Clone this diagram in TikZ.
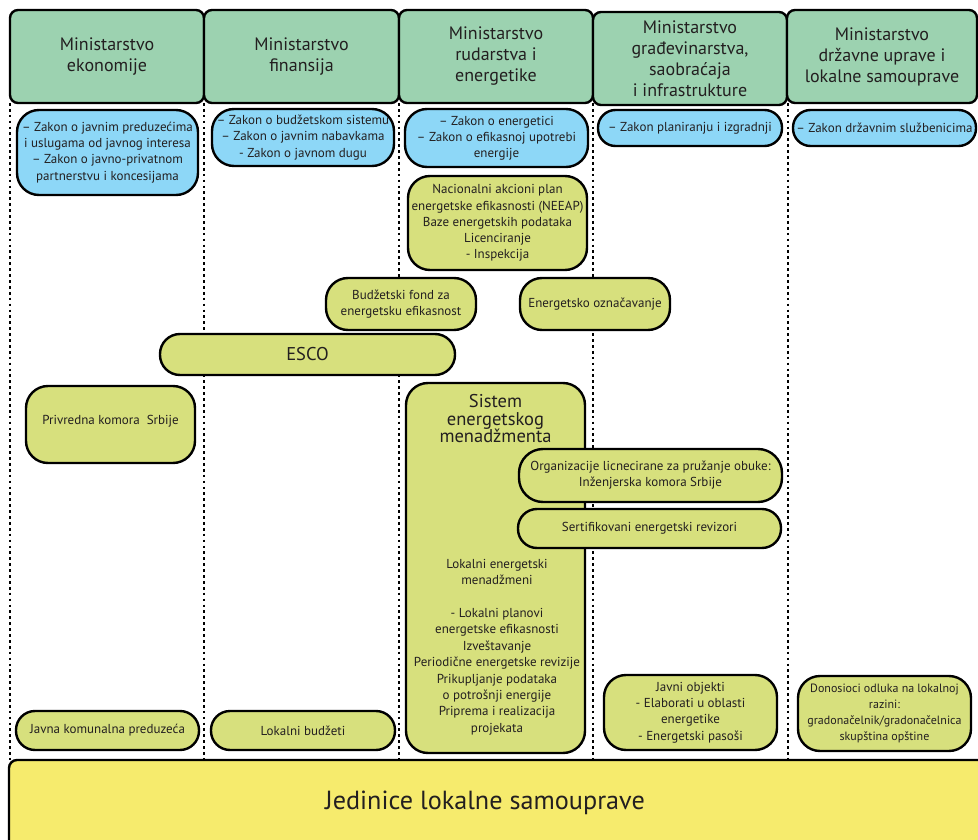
\documentclass[tikz,border=0pt]{standalone}
\usepackage{fontspec}
\setmainfont{PT Sans}
\definecolor{hdr}{RGB}{156,210,176}
\definecolor{law}{RGB}{141,215,247}
\definecolor{lime}{RGB}{215,224,125}
\definecolor{ylw}{RGB}{246,235,109}
\definecolor{txt}{RGB}{35,31,32}
\tikzset{
  base/.style={draw=black, line width=2.4pt, inner sep=0pt, outer sep=0pt, align=center, text=txt},
  hdrbox/.style={base, fill=hdr, rounded corners=8pt, font=\fontsize{18}{21}\selectfont},
  lawbox/.style={base, fill=law, rounded corners=#1, font=\fontsize{13}{16.2}\selectfont},
  limebox/.style={base, fill=lime, rounded corners=#1, font=\fontsize{13}{16.2}\selectfont},
  sep/.style={line width=2.7pt, dash pattern=on 2.7pt off 3.2pt, black},
  plain/.style={inner sep=0pt, align=center, text=txt},
}
\begin{document}
\begin{tikzpicture}[x=1pt,y=-1pt]
\clip (0,0) rectangle (978,840);
\path[use as bounding box] (0,0) rectangle (978,840);
\fill[white] (0,0) rectangle (978,840);

% column separators
\foreach \i/\x in {0/10,1/204,2/399,3/593,4/788}{
  \coordinate (t\i) at (\x,103);
  \coordinate (b\i) at (\x,760);
  \draw[sep] (t\i) -- (b\i);
}

% headers
\node[hdrbox, minimum width=194pt, minimum height=93pt] (h1) at (107,56.5) {Ministarstvo\\ekonomije};
\node[hdrbox, minimum width=195pt, minimum height=93pt] (h2) at (301.5,56.5) {Ministarstvo\\finansija};
\node[hdrbox, minimum width=194pt, minimum height=93pt] (h3) at (496,56.5) {Ministarstvo\\rudarstva i\\energetike};
\node[hdrbox, minimum width=194pt, minimum height=93pt] (h4) at (690,58.5) {Ministarstvo\\građevinarstva,\\saobraćaja\\i infrastrukture};
\node[hdrbox, minimum width=190pt, minimum height=93pt] (h5) at (882,56.5) {Ministarstvo\\državne uprave i\\lokalne samouprave};

% laws
\node[lawbox=22pt, minimum width=181pt, minimum height=85pt] (l1) at (107.5,152.5) {– Zakon o javnim preduzećima\\i uslugama od javnog interesa\\– Zakon o javno-privatnom\\partnerstvu i koncesijama};
\node[lawbox=22pt, minimum width=182pt, minimum height=57pt] (l2) at (303,137.5) {– Zakon o budžetskom sistemu\\– Zakon o javnim nabavkama\\- Zakon o javnom dugu};
\node[lawbox=22pt, minimum width=183pt, minimum height=58pt] (l3) at (496.5,138) {– Zakon o energetici\\– Zakon o efikasnoj upotrebi\\energije};
\node[lawbox=17.5pt, minimum width=184pt, minimum height=36pt] (l4) at (690,128) {– Zakon planiranju i izgradnji};
\node[lawbox=17.5pt, minimum width=183pt, minimum height=36pt] (l5) at (884.5,128) {– Zakon državnim službenicima};

% middle boxes
\node[limebox=22pt, minimum width=179pt, minimum height=94pt] (neeap) at (497.5,223) {Nacionalni akcioni plan\\energetske efikasnosti (NEEAP)\\Baze energetskih podataka\\Licenciranje\\- Inspekcija};
\node[limebox=22pt, minimum width=150pt, minimum height=52pt] (fond) at (401,304) {Budžetski fond za\\energetsku efikasnost};
\node[limebox=22pt, minimum width=150pt, minimum height=52pt] (ozn) at (595,304) {Energetsko označavanje};
\node[limebox=20pt, minimum width=295pt, minimum height=41pt, font=\fontsize{18.5}{20}\selectfont] (esco) at (307.5,354.5) {ESCO};
\node[limebox=22pt, minimum width=169pt, minimum height=77pt] (pks) at (110.5,424.5) {};
\node[plain, font=\fontsize{13}{16.2}\selectfont] (pkst) at (110.5,421) {Privredna komora\ \ Srbije};

\node[limebox=22pt, minimum width=179pt, minimum height=370pt] (sem) at (495.5,568) {};
\node[plain, font=\fontsize{18.5}{17.5}\selectfont] (semt) at (495.5,419) {Sistem\\energetskog\\menadžmenta};
\node[plain, font=\fontsize{13}{16.4}\selectfont] (semd) at (497,647) {Lokalni energetski\\menadžmeni\\[16.4pt]- Lokalni planovi\\energetske efikasnosti\\Izveštavanje\\Periodične energetske revizije\\Prikupljanje podataka\\o potrošnji energije\\Priprema i realizacija\\projekata};

\node[limebox=24pt, minimum width=263pt, minimum height=53pt] (org) at (650.5,475.5) {Organizacije licnecirane za pružanje obuke:\\Inženjerska komora Srbije};
\node[limebox=19pt, minimum width=263pt, minimum height=39pt] (rev) at (649.5,528.5) {Sertifikovani energetski revizori};

% bottom row
\node[limebox=19pt, minimum width=183pt, minimum height=39pt] (jkp) at (107.5,730.5) {Javna komunalna preduzeća};
\node[limebox=19pt, minimum width=184pt, minimum height=39pt] (lb) at (303,730.5) {Lokalni budžeti};
\node[limebox=22pt, minimum width=173pt, minimum height=75pt] (jo) at (690.5,712.5) {Javni objekti\\- Elaborati u oblasti\\energetike\\- Energetski pasoši};
\node[limebox=22pt, minimum width=173pt, minimum height=75pt, font=\fontsize{12}{16}\selectfont] (don) at (884.5,713.5) {Donosioci odluka na lokalnoj\\razini:\\gradonačelnik/gradonačelnica\\skupština opštine};

% local self-government
\node[base, fill=ylw, rounded corners=8pt, minimum width=990pt, minimum height=100pt] (jls) at (504,810) {};
\node[plain, font=\fontsize{26.2}{28}\selectfont] (jlst) at (485,803) {Jedinice lokalne samouprave};
\end{tikzpicture}
\end{document}
